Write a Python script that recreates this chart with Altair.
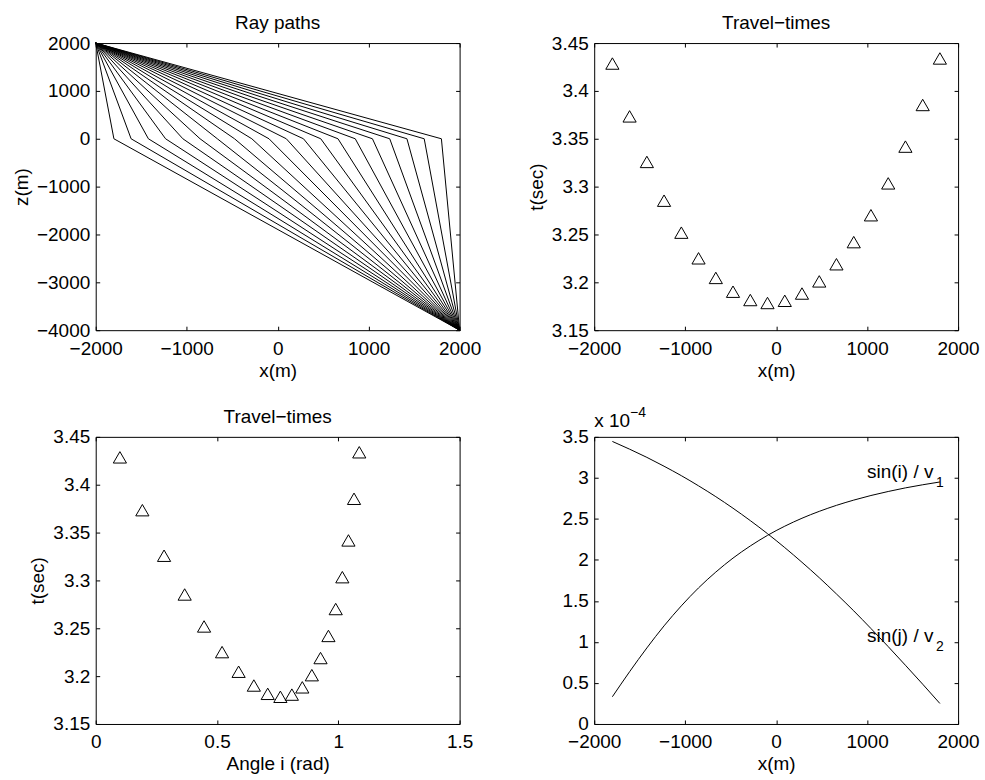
import altair as alt
import pandas as pd

FONT = "Liberation Sans"

# ---------------- data ----------------
receiver_x = [-1800, -1611, -1421, -1232, -1042, -853, -663, -474, -284, -95,
              95, 284, 474, 663, 853, 1042, 1232, 1421, 1611, 1800]
travel_time = [3.4286, 3.3734, 3.3258, 3.2853, 3.2519, 3.2251, 3.2046, 3.1902, 3.1815, 3.1784,
               3.1807, 3.1883, 3.2010, 3.2189, 3.2420, 3.2701, 3.3034, 3.3418, 3.3853, 3.4339]
angle_i = [0.0997, 0.1923, 0.2818, 0.3667, 0.4467, 0.5209, 0.5891, 0.6518, 0.7091, 0.7612,
           0.8085, 0.8516, 0.8909, 0.9267, 0.9593, 0.9893, 1.0166, 1.0418, 1.0648, 1.0864]
# values in units of 1e-4
sin_i_v1 = [0.332, 0.637, 0.927, 1.196, 1.440, 1.659, 1.852, 2.022, 2.170, 2.299,
            2.411, 2.508, 2.592, 2.665, 2.729, 2.785, 2.834, 2.878, 2.916, 2.950]
sin_j_v2 = [3.444, 3.350, 3.250, 3.142, 3.027, 2.903, 2.771, 2.630, 2.479, 2.320,
            2.150, 1.971, 1.783, 1.585, 1.379, 1.164, 0.943, 0.716, 0.485, 0.250]
source_point = (-2000, 2000)
end_point = (2000, -4000)
interface_z = 0

x_ticks = [-2000, -1000, 0, 1000, 2000]
z_ticks = [-4000, -3000, -2000, -1000, 0, 1000, 2000]
t_ticks = [3.15, 3.2, 3.25, 3.3, 3.35, 3.4, 3.45]
angle_ticks = [0, 0.5, 1, 1.5]
s_ticks = [0, 0.5, 1, 1.5, 2, 2.5, 3, 3.5]

label_main = ["sin(i) / v", "sin(j) / v"]
label_sub = ["1", "2"]
label_x = [1000, 1000]
label_y = [3.0, 1.0]

# ---------------- tables ----------------
rays = []
for k, xk in enumerate(receiver_x):
    rays.append({"ray": k, "seq": 0, "x": source_point[0], "z": source_point[1]})
    rays.append({"ray": k, "seq": 1, "x": xk, "z": interface_z})
    rays.append({"ray": k, "seq": 2, "x": end_point[0], "z": end_point[1]})
rays_df = pd.DataFrame(rays)

tt_df = pd.DataFrame({"x": receiver_x, "t": travel_time, "angle": angle_i})

curves_df = pd.concat([
    pd.DataFrame({"x": receiver_x, "v": sin_i_v1, "series": "i"}),
    pd.DataFrame({"x": receiver_x, "v": sin_j_v2, "series": "j"}),
])
ann_df = pd.DataFrame({"x": label_x, "y": label_y, "main": label_main, "sub": label_sub})

W, H = 365, 288
TRI = "M-1,0.866L0,-0.866L1,0.866Z"


def panel(data_layers, xdom, ydom, xt, yt, xfmt, yfmt, xtitle, ytitle, title=None, ytitle_x=-56):
    dummy = pd.DataFrame({"a": [xdom[0]], "b": [ydom[0]]})
    xs = alt.Scale(domain=xdom, nice=False, zero=False)
    ys = alt.Scale(domain=ydom, nice=False, zero=False)
    ax_bl = alt.Chart(dummy).mark_point(opacity=0).encode(
        x=alt.X("a:Q", scale=xs, axis=alt.Axis(orient="bottom", values=xt, format=xfmt,
                                               title=xtitle if xtitle else None)),
        y=alt.Y("b:Q", scale=ys, axis=alt.Axis(orient="left", values=yt, format=yfmt,
                                               title=ytitle if ytitle else None,
                                               titleX=ytitle_x)),
    )
    ax_tr = alt.Chart(dummy).mark_point(opacity=0).encode(
        x=alt.X("a:Q", scale=xs, axis=alt.Axis(orient="top", values=xt, labels=False, title=None)),
        y=alt.Y("b:Q", scale=ys, axis=alt.Axis(orient="right", values=yt, labels=False, title=None)),
    )
    layers = [ax_bl, ax_tr] + [l(xs, ys) for l in data_layers]
    props = dict(width=W, height=H)
    if title:
        props["title"] = alt.Title(title, frame="group")
    return alt.layer(*layers).resolve_axis(x="independent", y="independent").properties(**props)


def rays_layer(xs, ys):
    return alt.Chart(rays_df).mark_line(color="black", strokeWidth=1).encode(
        x=alt.X("x:Q", scale=xs, axis=None),
        y=alt.Y("z:Q", scale=ys, axis=None),
        detail="ray:N",
        order="seq:Q",
    )


def tri_layer(xfield):
    def f(xs, ys):
        return alt.Chart(tt_df).mark_point(shape=TRI, size=175, filled=False, color="black",
                                           strokeWidth=1, opacity=1).encode(
            x=alt.X(f"{xfield}:Q", scale=xs, axis=None),
            y=alt.Y("t:Q", scale=ys, axis=None),
        )
    return f


def curves_layer(xs, ys):
    return alt.Chart(curves_df).mark_line(color="black", strokeWidth=1, interpolate="monotone").encode(
        x=alt.X("x:Q", scale=xs, axis=None),
        y=alt.Y("v:Q", scale=ys, axis=None),
        detail="series:N",
    )


def ann_main(xs, ys):
    return alt.Chart(ann_df).mark_text(align="left", baseline="alphabetic", font=FONT,
                                       fontSize=19, color="black").encode(
        x=alt.X("x:Q", scale=xs, axis=None), y=alt.Y("y:Q", scale=ys, axis=None), text="main:N")


def ann_sub(xs, ys):
    return alt.Chart(ann_df).mark_text(align="left", baseline="alphabetic", font=FONT,
                                       fontSize=14, color="black", dx=69, dy=9).encode(
        x=alt.X("x:Q", scale=xs, axis=None), y=alt.Y("y:Q", scale=ys, axis=None), text="sub:N")


exp_df = pd.DataFrame({"base": ["x 10"], "exp": ["\u22124"]})


def exp_base(xs, ys):
    return alt.Chart(exp_df).mark_text(align="left", baseline="alphabetic", font=FONT,
                                       fontSize=19, color="black").encode(
        x=alt.value(0), y=alt.value(-10), text="base:N")


def exp_sup(xs, ys):
    return alt.Chart(exp_df).mark_text(align="left", baseline="alphabetic", font=FONT,
                                       fontSize=14, color="black").encode(
        x=alt.value(36), y=alt.value(-20), text="exp:N")


A = panel([rays_layer], [-2000, 2000], [-4000, 2000], x_ticks, z_ticks, "d", "d",
          "x(m)", "z(m)", title="Ray paths", ytitle_x=-72)
B = panel([tri_layer("x")], [-2000, 2000], [3.15, 3.45], x_ticks, t_ticks, "d", ".2~f",
          "x(m)", "t(sec)", title="Travel\u2212times")
C = panel([tri_layer("angle")], [0, 1.5], [3.15, 3.45], angle_ticks, t_ticks, ".1~f", ".2~f",
          "Angle i (rad)", "t(sec)", title="Travel\u2212times")
D = panel([curves_layer, ann_main, ann_sub, exp_base, exp_sup], [-2000, 2000], [0, 3.5],
          x_ticks, s_ticks, "d", ".1~f", "x(m)", None)

chart = alt.concat(A, B, C, D, columns=2, spacing={"row": 107, "column": 135}, bounds="flush").properties(
    padding={"left": 12, "top": 12, "right": 5, "bottom": 5},
    background="white",
).configure_view(
    stroke="black", strokeWidth=1
).configure_axis(
    domain=False, grid=False, tickSize=4, offset=-4, tickColor="black", tickWidth=1,
    labelFont=FONT, labelFontSize=19, labelColor="black", labelFlush=False, labelOverlap=False,
    labelBound=False,
    titleFont=FONT, titleFontSize=19, titleFontWeight="normal", titleColor="black",
).configure_axisBottom(
    labelBaseline="alphabetic", labelPadding=24, titleY=50, titleBaseline="alphabetic",
).configure_axisLeft(
    labelPadding=6, titleBaseline="alphabetic",
).configure_title(
    font=FONT, fontSize=19, fontWeight="normal", color="black", anchor="middle",
    baseline="alphabetic", offset=1,
)

chart.save("out.html", embed_options={"renderer": "svg", "actions": False})
